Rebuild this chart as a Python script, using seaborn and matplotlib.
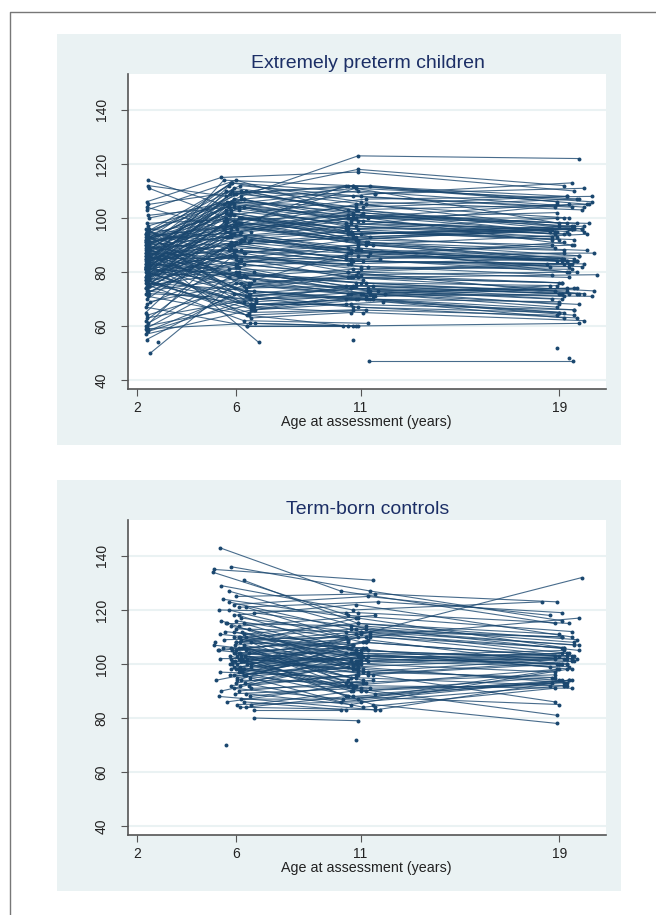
import numpy as np
import pandas as pd
import matplotlib
matplotlib.use("Agg")
import matplotlib.pyplot as plt
from matplotlib.patches import Rectangle
from matplotlib.lines import Line2D
import seaborn as sns

nan = np.nan
titles = ["Extremely preterm children", "Term-born controls"]
x_ticks = [2, 6, 11, 19]
y_ticks = [40, 60, 80, 100, 120, 140]
x_label = "Age at assessment (years)"

# Extremely preterm: score at each of the four assessments
ep_score_2 = [114,112,111,106,105,104,103,101,100,98,
 97,96,95,95,94,94,93,93,92,92,
 92,91,91,90,90,90,89,89,88,88,
 88,87,87,87,86,86,86,85,85,85,
 84,84,84,83,83,83,82,82,82,81,
 81,81,80,80,80,79,79,79,78,78,
 78,77,77,77,76,76,75,75,75,74,
 74,73,73,72,72,71,70,69,68,67,
 65,64,63,62,61,60,60,59,59,58,
 58,57,55,54,50,88,nan,nan,nan,nan,
 95,94,93,92,91,90,89,88,87,86,
 85,84,83,82,81,80,79,78,77,76,
 93,91,89,87,85,83,81,79,nan,nan,
 92,nan,nan,84,80,86,90,76,82,94,
 96,95,94,93,92,91,90,89,88,87,
 86,85,84,83,82,81,80,79,78,77,
 76,75,74,73,72,90,88,86,84,82]
ep_score_6 = [103,108,99,115,110,96,114,104,107,100,
 106,92,105,88,110,101,97,84,113,95,
 100,109,87,99,78,93,105,91,83,97,
 107,94,80,102,90,73,98,88,104,85,
 96,76,89,104,81,92,70,99,86,110,
 75,93,84,102,67,90,79,98,71,86,
 94,83,65,101,88,73,95,80,62,90,
 84,78,95,70,87,64,91,76,82,60,
 93,75,70,86,80,68,90,61,78,73,
 69,66,72,nan,76,54,61,60,nan,nan,
 85,112,78,104,96,82,72,111,100,77,
 103,95,74,109,87,106,83,92,99,69,
 98,nan,86,nan,91,78,nan,88,100,76,
 108,nan,nan,113,68,79,107,66,97,91,
 74,112,68,105,71,98,113,66,109,79,
 101,70,107,63,96,106,67,94,110,64,
 100,88,104,68,93,75,103,72,97,114]
ep_score_11 = [112,118,105,117,103,111,100,109,98,112,
 104,95,110,86,102,107,92,83,106,99,
 96,112,80,101,73,88,97,94,79,90,
 100,89,72,96,93,70,91,84,101,78,
 105,72,87,99,80,88,67,92,82,103,
 71,97,86,94,65,85,76,90,74,81,
 87,78,66,91,84,70,100,75,61,93,
 82,74,88,73,90,60,84,78,73,60,
 95,80,71,84,76,68,85,60,72,70,
 75,70,67,nan,72,nan,60,60,55,47,
 90,108,81,93,100,85,70,105,95,88,
 98,103,75,112,92,102,89,86,94,72,
 nan,100,nan,83,nan,nan,77,nan,92,nan,
 123,nan,nan,109,68,76,111,69,101,87,
 78,nan,70,100,74,95,nan,72,104,nan,
 96,nan,101,65,nan,99,71,nan,108,66,
 94,nan,97,70,88,79,nan,75,91,112]
ep_score_19 = [108,112,97,110,105,107,100,113,96,106,
 107,93,104,84,98,108,96,85,103,95,
 100,105,83,95,74,82,105,97,76,84,
 102,80,68,96,95,65,88,83,98,73,
 100,67,90,94,72,84,65,96,79,95,
 72,93,85,96,62,80,73,85,70,83,
 84,76,64,86,83,66,98,72,nan,89,
 81,71,84,70,94,61,83,79,68,nan,
 92,78,74,82,72,nan,87,nan,74,64,
 72,65,63,nan,71,nan,nan,nan,nan,47,
 88,104,82,96,105,86,69,108,92,84,
 94,96,73,106,90,95,84,91,97,75,
 nan,nan,nan,nan,nan,nan,nan,nan,nan,nan,
 122,52,48,111,66,75,98,63,90,87,
 76,nan,nan,nan,72,nan,nan,nan,nan,nan,
 92,nan,97,nan,nan,95,nan,nan,104,nan,
 96,nan,94,nan,nan,80,nan,nan,85,nan]

ep_age_2 = [2.45,2.45,2.5,2.4,2.45,2.4,2.42,2.47,2.5,2.4,
 2.44,2.48,2.4,2.42,2.36,2.45,2.38,2.5,2.4,2.44,
 2.36,2.42,2.46,2.38,2.4,2.5,2.36,2.44,2.41,2.48,
 2.38,2.42,2.46,2.4,2.36,2.5,2.44,2.38,2.42,2.47,
 2.4,2.36,2.45,2.42,2.5,2.38,2.4,2.44,2.36,2.47,
 2.42,2.38,2.4,2.46,2.36,2.44,2.5,2.4,2.38,2.42,
 2.45,2.4,2.36,2.48,2.42,2.38,2.44,2.4,2.5,2.37,
 2.42,2.46,2.4,2.5,2.38,2.45,2.42,2.52,2.4,2.38,
 2.36,2.42,2.4,2.36,2.45,2.4,2.38,2.44,2.36,2.41,
 2.46,2.38,2.4,2.85,2.55,2.5,nan,nan,nan,nan,
 2.42,2.38,2.46,2.4,2.36,2.44,2.4,2.5,2.38,2.42,
 2.4,2.46,2.36,2.42,2.38,2.44,2.4,2.5,2.36,2.42,
 2.44,2.38,2.42,2.46,2.4,2.5,2.36,2.42,nan,nan,
 2.45,nan,nan,2.4,2.42,2.38,2.46,2.4,2.36,2.42,
 2.38,2.44,2.4,2.48,2.36,2.42,2.46,2.4,2.44,2.38,
 2.42,2.36,2.46,2.4,2.5,2.38,2.44,2.42,2.36,2.48,
 2.4,2.44,2.38,2.46,2.42,2.36,2.5,2.4,2.44,2.38]
ep_age_6 = [6.1,5.6,5.9,5.4,6.2,5.5,6.0,5.7,6.3,6.9,
 5.8,6.2,5.5,6.0,6.4,5.7,5.9,6.1,5.8,6.6,
 5.6,5.9,6.3,5.5,6.1,5.8,5.7,6.5,6.0,5.6,
 6.2,5.9,6.7,5.6,5.8,6.4,6.0,5.7,5.9,6.2,
 5.5,6.6,5.8,6.1,5.7,6.3,6.8,5.9,6.0,5.6,
 6.5,5.7,6.2,5.8,6.6,5.9,6.1,5.6,6.4,6.0,
 5.8,6.3,6.5,5.9,6.2,6.7,5.6,6.0,6.3,5.8,
 6.1,6.4,5.7,6.8,5.9,6.5,5.8,6.2,6.0,6.45,
 5.6,6.3,6.6,5.9,6.1,6.7,5.7,6.55,6.2,6.4,
 6.3,6.6,5.9,nan,6.0,6.9,6.75,6.45,nan,nan,
 6.0,6.15,5.7,6.3,5.8,6.1,6.5,5.9,6.25,6.7,
 5.6,6.2,5.95,5.75,6.35,5.85,6.05,6.6,5.65,6.8,
 6.2,nan,5.8,nan,6.0,6.4,nan,5.9,6.1,6.5,
 6.2,nan,nan,5.85,6.6,6.05,6.3,6.75,5.95,6.15,
 6.4,5.7,6.6,5.9,6.5,6.1,5.8,6.7,6.0,6.3,
 5.75,6.55,5.9,6.6,6.05,5.65,6.7,6.15,5.85,6.45,
 6.2,5.95,5.7,6.6,6.35,6.5,5.8,6.55,6.0,5.5]
ep_age_11 = [10.7,10.9,11.2,10.9,10.5,10.8,11.3,11.6,10.6,10.4,
 11.1,10.6,10.9,10.4,10.7,11.2,10.8,10.5,11.0,10.6,
 10.9,11.4,10.5,10.7,11.3,10.6,10.4,11.0,10.8,11.5,
 10.7,10.9,11.1,10.5,10.8,10.4,11.2,10.6,11.0,10.5,
 10.8,11.4,10.6,11.1,10.5,10.9,10.7,10.4,11.3,10.8,
 11.6,10.5,10.9,10.7,11.1,10.4,10.8,11.2,10.6,11.0,
 10.5,10.9,10.7,11.3,10.6,11.5,10.8,10.4,11.3,10.7,
 11.0,10.6,10.8,11.7,10.9,10.5,11.1,10.7,11.4,10.8,
 10.6,10.9,11.2,10.7,11.0,10.4,10.6,10.7,10.5,11.2,
 10.8,11.3,10.9,nan,10.6,nan,10.9,10.3,10.7,11.33,
 10.9,11.0,10.7,11.4,10.5,11.8,10.8,11.2,10.6,11.0,
 10.4,10.9,11.5,10.7,10.8,11.1,10.5,11.3,10.6,12.0,
 nan,10.7,nan,10.6,nan,nan,11.1,nan,10.9,nan,
 10.9,nan,nan,11.6,10.6,11.2,10.8,11.9,10.5,11.4,
 10.6,nan,10.9,10.7,11.3,10.5,nan,11.0,10.8,nan,
 10.4,nan,11.1,10.6,nan,10.9,11.5,nan,10.7,11.2,
 10.5,nan,10.8,11.4,10.6,11.0,nan,10.7,10.9,10.5]
ep_age_19 = [19.3,19.2,19.0,19.6,20.1,19.8,18.9,19.5,19.4,20.3,
 19.7,18.7,20.0,18.9,19.3,20.3,19.6,19.1,19.9,18.8,
 19.2,20.2,19.5,18.8,19.7,18.6,19.4,20.0,19.1,19.6,
 18.9,19.3,19.8,19.5,18.9,19.0,20.1,19.2,19.7,20.4,
 19.4,18.9,19.6,18.8,19.8,19.3,19.0,19.5,18.7,20.0,
 19.7,18.9,19.2,19.9,20.0,19.4,18.8,19.6,19.1,18.5,
 19.3,19.0,18.9,19.8,19.4,19.6,20.2,19.1,nan,18.8,
 19.5,19.2,19.7,18.7,20.1,19.8,20.0,20.5,19.0,nan,
 18.7,19.4,19.6,19.9,20.0,nan,19.2,nan,19.3,19.6,
 19.0,19.2,19.7,nan,20.3,nan,nan,nan,nan,19.56,
 19.2,19.5,19.4,18.7,18.9,19.8,19.0,19.3,19.6,19.1,
 19.4,19.9,19.3,18.9,18.7,18.6,19.7,19.2,19.5,18.9,
 nan,nan,nan,nan,nan,nan,nan,nan,nan,nan,
 19.8,18.9,19.4,20.0,19.6,18.6,19.0,19.2,19.5,20.4,
 19.1,nan,nan,nan,19.4,nan,nan,nan,nan,nan,
 19.0,nan,19.6,nan,nan,19.3,nan,nan,18.8,nan,
 19.5,nan,19.2,nan,nan,19.7,nan,nan,19.1,nan]

# Term-born controls
ct_score_6 = [143,136,135,134,131,129,127,125,124,123,
 122,121,121,120,120,119,118,118,117,116,
 116,115,115,114,114,113,113,112,112,111,
 111,110,110,110,109,109,108,108,108,107,
 107,107,106,106,106,105,105,105,105,104,
 104,104,103,103,103,102,102,102,101,101,
 101,100,100,100,99,99,99,98,98,98,
 97,97,97,96,96,96,95,95,94,94,
 93,93,92,92,91,91,90,90,89,89,
 88,88,87,86,86,85,85,84,84,83,
 112,108,106,104,102,100,98,96,94,92,
 110,106,104,102,100,98,96,105,103,101,
 80,70,nan,nan,nan,nan,nan,108,106,115]
ct_score_11 = [127,127,131,118,115,120,113,126,117,112,
 125,123,110,119,108,114,104,122,111,99,
 109,114,103,118,105,112,98,107,101,115,
 106,100,113,96,104,110,92,106,117,101,
 111,97,108,103,91,112,100,95,106,88,
 104,94,100,109,96,105,90,102,85,98,
 107,102,93,111,100,89,104,97,110,92,
 103,95,88,101,106,91,99,86,93,104,
 99,84,96,105,92,87,101,94,85,91,
 83,92,87,93,83,86,90,83,88,83,
 98,112,95,108,97,106,103,100,109,96,
 105,93,101,98,108,94,104,110,90,102,
 79,nan,72,113,119,90,84,nan,nan,nan]
ct_score_19 = [115,116,nan,112,109,123,nan,123,nan,107,
 118,119,nan,115,nan,105,nan,110,106,93,
 nan,108,100,nan,102,nan,94,nan,99,111,
 nan,97,107,86,nan,117,91,nan,106,nan,
 103,95,nan,102,81,110,nan,92,nan,85,
 99,nan,103,nan,100,nan,95,104,78,nan,
 nan,100,96,132,nan,94,nan,102,nan,98,
 101,nan,93,nan,98,nan,102,94,nan,103,
 nan,91,101,nan,nan,94,102,nan,98,92,
 94,nan,98,nan,nan,92,93,nan,nan,nan,
 nan,104,nan,103,nan,nan,105,nan,100,nan,
 102,nan,104,nan,103,nan,nan,106,nan,100,
 nan,nan,nan,110,nan,nan,nan,nan,nan,nan]
ct_age_6 = [5.35,5.8,5.1,5.05,6.3,5.4,5.7,6.0,5.45,5.7,
 5.9,6.1,6.4,5.3,5.7,6.7,6.1,5.9,6.2,5.4,
 6.0,5.6,6.3,6.1,5.8,6.0,6.5,5.55,5.9,6.3,
 5.35,6.1,6.4,5.9,6.2,5.5,6.6,6.0,6.15,5.1,
 5.95,6.3,6.1,5.45,6.25,6.0,5.3,6.4,5.85,6.15,
 6.5,5.9,6.2,6.05,6.35,5.8,6.1,5.35,6.3,5.95,
 6.2,5.75,6.45,6.05,5.9,6.15,6.6,6.0,5.8,6.3,
 6.1,5.35,6.25,6.4,5.9,5.75,6.05,6.55,6.2,5.2,
 6.0,6.35,5.8,6.15,6.6,5.9,5.4,6.1,6.4,5.95,
 5.3,6.55,6.2,5.65,6.3,6.05,6.6,6.15,6.4,6.7,
 6.25,6.0,6.35,6.1,6.45,5.85,6.2,6.3,6.05,6.5,
 6.15,6.4,5.95,6.25,6.6,6.1,6.3,5.25,5.75,5.85,
 6.7,5.6,nan,nan,nan,nan,nan,5.15,5.8,5.65]
ct_age_11 = [10.2,11.4,11.5,10.5,10.9,10.7,11.2,11.6,10.8,11.0,
 11.3,11.7,10.4,10.9,11.1,10.6,11.0,10.8,11.4,10.7,
 10.5,11.2,10.9,11.6,10.8,10.4,11.1,10.7,11.3,10.9,
 10.6,11.0,10.8,11.5,10.4,11.2,10.7,11.1,10.9,10.6,
 10.8,11.3,10.5,11.0,10.7,11.4,10.9,10.6,11.2,10.4,
 10.9,11.1,10.7,10.5,11.3,10.8,11.0,10.6,11.5,10.9,
 10.7,11.2,10.4,11.0,10.8,11.6,10.6,11.1,10.9,10.5,
 11.3,10.8,10.7,11.0,10.6,11.4,10.9,10.2,11.1,10.7,
 10.5,11.1,10.9,11.3,10.7,10.3,10.8,11.5,10.6,11.0,
 11.6,10.8,10.9,11.2,10.4,11.0,10.7,11.8,10.5,10.2,
 10.8,11.0,10.6,11.2,10.9,10.5,11.1,10.7,11.3,10.8,
 11.0,10.6,10.9,10.7,11.2,10.5,10.8,11.4,10.6,11.0,
 10.9,nan,10.8,10.6,10.4,11.2,11.6,nan,nan,nan]
ct_age_19 = [18.8,19.1,nan,19.5,19.7,18.3,nan,18.9,nan,19.8,
 18.6,19.1,nan,19.4,nan,19.8,nan,19.5,19.1,19.3,
 nan,19.6,19.1,nan,19.5,nan,19.0,nan,19.4,19.0,
 nan,18.8,19.6,18.8,nan,19.8,19.5,nan,19.2,nan,
 19.3,18.8,nan,19.5,18.9,19.1,nan,19.2,nan,19.0,
 18.6,nan,19.5,nan,18.9,nan,18.7,19.4,18.9,nan,
 nan,19.3,18.8,19.9,nan,19.1,nan,19.2,nan,18.9,
 19.6,nan,18.7,nan,19.5,nan,18.8,19.4,nan,19.6,
 nan,18.8,19.5,nan,nan,19.4,19.7,nan,19.3,18.6,
 19.5,nan,19.0,nan,nan,19.3,19.2,nan,nan,nan,
 nan,19.3,nan,18.8,nan,nan,19.2,nan,19.0,nan,
 19.3,nan,19.1,nan,19.0,nan,nan,19.2,nan,19.3,
 nan,nan,nan,19.1,nan,nan,nan,nan,nan,nan]

W, H = 656, 915
NAVY = "#1a476f"
BG = "#eaf2f3"
AXC = "#555555"
sns.set_style("white")
plt.rcParams["font.family"] = ["Liberation Sans", "DejaVu Sans"]

fig = plt.figure(figsize=(W / 100, H / 100), dpi=100, facecolor="white")

def rect(x0, y0, x1, y1):
    return [x0 / W, 1 - y1 / H, (x1 - x0) / W, (y1 - y0) / H]

def long_table(ages, scores):
    rows = []
    for a_col, s_col in zip(ages, scores):
        for i, (a, s) in enumerate(zip(a_col, s_col)):
            rows.append((i, a, s))
    return pd.DataFrame(rows, columns=["id", "age", "score"]).dropna()

fig.add_artist(Line2D([10 / W, 10 / W, 1], [0, 1 - 12 / H, 1 - 12 / H],
                      color="#777777", lw=1.0, transform=fig.transFigure))

panels = [
    (34, 445, long_table([ep_age_2, ep_age_6, ep_age_11, ep_age_19],
                         [ep_score_2, ep_score_6, ep_score_11, ep_score_19])),
    (480, 891, long_table([ct_age_6, ct_age_11, ct_age_19],
                          [ct_score_6, ct_score_11, ct_score_19])),
]

for (top, bottom, table), title in zip(panels, titles):
    x0, y0, x1, y1 = rect(57, top, 621, bottom)
    fig.add_artist(Rectangle((x0, y0), x1, y1, transform=fig.transFigure,
                             facecolor=BG, edgecolor="none", zorder=-5))
    ax = fig.add_axes(rect(127.5, top + 40, 606, top + 355))
    ax.set_facecolor("white")
    ax.grid(False)
    ax.set_axisbelow(True)
    ax.yaxis.grid(True, color=BG, lw=1.5)
    sns.lineplot(data=table, x="age", y="score", units="id", estimator=None,
                 sort=True, color=NAVY, lw=0.8, alpha=0.8, ax=ax, legend=False)
    sns.scatterplot(data=table, x="age", y="score", color=NAVY, s=8,
                    linewidth=0, ax=ax, legend=False, zorder=3)
    ax.set_xlim(1.63, 20.87)
    ax.set_ylim(36.7, 153.3)
    ax.set_xticks(x_ticks)
    ax.set_yticks(y_ticks)
    ax.tick_params(axis="x", length=5, width=0.8, color=AXC, labelsize=10,
                   labelcolor="#222222", pad=3.5, bottom=True)
    ax.tick_params(axis="y", length=5, width=0.8, color=AXC, labelsize=10,
                   labelcolor="#222222", pad=8.5, left=True)
    for lab in ax.get_yticklabels():
        lab.set_rotation(90)
        lab.set_va("center")
    ax.set_xlabel(x_label, fontsize=10.3, color="#222222", labelpad=0)
    ax.set_ylabel("")
    for side in ("top", "right"):
        ax.spines[side].set_visible(False)
    for side in ("left", "bottom"):
        ax.spines[side].set_color(AXC)
        ax.spines[side].set_linewidth(1.2)
    fig.text(368 / W, 1 - (top + 29) / H, title, ha="center", va="center",
             fontsize=14, color="#1c2f66")

fig.savefig("out.png", dpi=100)
